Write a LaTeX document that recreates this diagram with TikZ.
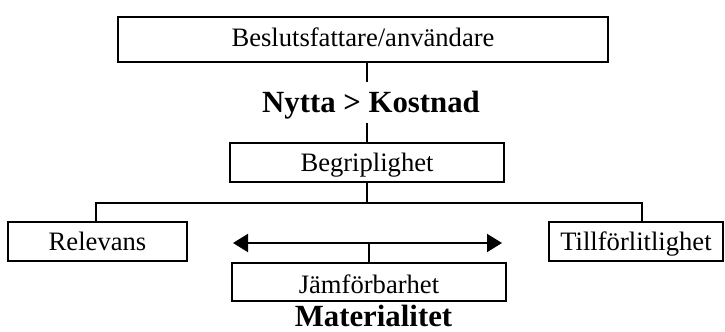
\documentclass[tikz,border=0pt]{standalone}
\usepackage{fontspec}
\setmainfont{Liberation Serif}
\usetikzlibrary{arrows.meta}
\newcommand{\rutfont}{\fontsize{13.3}{16}\selectfont}
\newcommand{\rubrikfont}{\fontsize{15.4}{18}\selectfont\bfseries}
\tikzset{
  ruta/.style={draw, line width=1pt, inner sep=0pt, font=\rutfont,
    text height=8.8pt, text depth=0pt},
  rubrik/.style={inner xsep=0pt, inner ysep=4.8pt, font=\rubrikfont,
    text height=10.4pt, text depth=0pt},
  led/.style={line width=1pt},
  pil/.style={line width=1pt, {Triangle[length=7.5pt,width=9pt]}-{Triangle[length=7.5pt,width=9pt]}}
}

\begin{document}
\begin{tikzpicture}[x=0.5pt,y=-0.5pt]
 \useasboundingbox (0,0) rectangle (725,332);

 % boxes
 \node[ruta, minimum width=245pt, minimum height=22.5pt, text depth=2pt] (beslut) at (363,39.5) {Beslutsfattare/användare};
 \node[rubrik] (nytta) at (371,102.5) {Nytta > Kostnad};
 \node[ruta, minimum width=137pt, minimum height=19.5pt] (begrip) at (367,162.5) {Begriplighet};
 \node[ruta, minimum width=89.5pt, minimum height=19.5pt] (relevans) at (97.5,241.5) {Relevans};
 \node[ruta, minimum width=87pt, minimum height=19.5pt] (till) at (636,241.5) {Tillförlitlighet};
 \node[ruta, minimum width=137pt, minimum height=19pt, text height=11.3pt] (jamf) at (369,282) {Jämförbarhet};
 \node[rubrik, inner ysep=0pt] (material) at (373.5,316.5) {Materialitet};

 % connectors
 \coordinate (vgren) at (96,203);
 \coordinate (hgren) at (642,203);
 \coordinate (pv) at (233,243);
 \coordinate (ph) at (502,243);

 \draw[led] (beslut.south -| begrip) -- (nytta.north -| begrip);
 \draw[led] (nytta.south -| begrip) -- (begrip.north);
 \draw[led] (begrip.south) -- (begrip.south |- vgren);
 \draw[led] (relevans.north -| vgren) |- (hgren) -- (hgren |- till.north);
 \draw[pil] (pv) -- (ph);
 \draw[led] (jamf.north) -- (jamf.north |- pv);

\end{tikzpicture}
\end{document}
